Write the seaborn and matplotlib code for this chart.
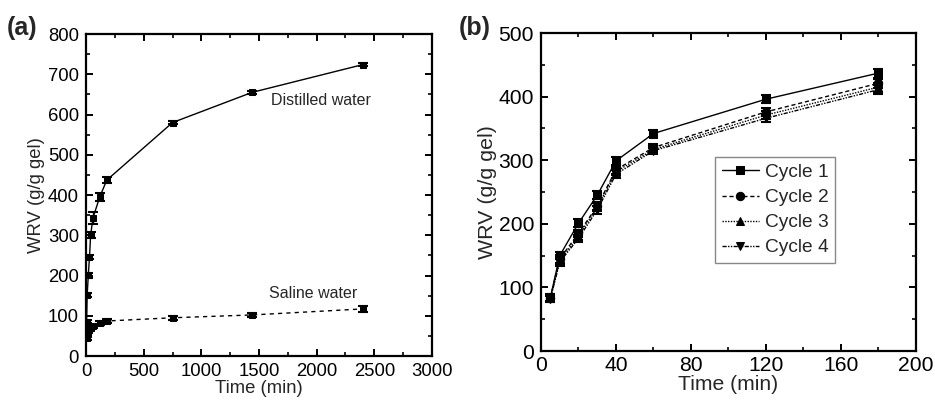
import numpy as np
import pandas as pd
import matplotlib
matplotlib.use("Agg")
import matplotlib.pyplot as plt
import seaborn as sns
from matplotlib.ticker import MultipleLocator

# ---- data (a) ----
time_a = [5, 10, 20, 30, 40, 60, 120, 180, 750, 1440, 2400]
distilled = [85, 152, 201, 246, 300, 343, 396, 437, 580, 655, 724]
distilled_err = [4, 5, 6, 6, 8, 14, 10, 8, 4, 4, 4]
saline = [45, 52, 60, 66, 70, 74, 82, 87, 95, 102, 117]
saline_err = [4, 4, 4, 4, 4, 4, 4, 4, 5, 6, 7]

# ---- data (b) ----
time_b = [5, 10, 20, 30, 40, 60, 120, 180]
cycle1 = [84, 150, 201, 245, 299, 342, 396, 437]
cycle2 = [84, 145, 185, 228, 285, 320, 376, 421]
cycle3 = [83, 142, 181, 226, 282, 317, 371, 415]
cycle4 = [82, 140, 177, 222, 278, 315, 366, 411]
err_b = [5, 6, 6, 6, 6, 5, 6, 7]
cycle_labels = ["Cycle 1", "Cycle 2", "Cycle 3", "Cycle 4"]

sns.set_style("ticks")
plt.rcParams['font.family'] = ['Liberation Sans', 'DejaVu Sans']

fig = plt.figure(figsize=(9.35, 4.03), dpi=100)
ax1 = fig.add_axes([0.092, 0.1166, 0.370, 0.799])
ax2 = fig.add_axes([0.5786, 0.129, 0.401, 0.789])

def style_axes(ax, lab_size, xpad, ypad):
    for s in ax.spines.values():
        s.set_linewidth(1.6)
        s.set_color("black")
    ax.tick_params(which="both", direction="in", top=True, right=True,
                   colors="black", labelsize=lab_size)
    ax.tick_params(axis="x", which="both", pad=xpad)
    ax.tick_params(axis="y", which="both", pad=ypad)
    ax.tick_params(which="major", length=5, width=1.4)
    ax.tick_params(which="minor", length=3, width=1.2)

# panel a
df_d = pd.DataFrame({"t": time_a, "v": distilled})
df_s = pd.DataFrame({"t": time_a, "v": saline})
sns.lineplot(data=df_d, x="t", y="v", ax=ax1, color="black", lw=1.0,
             marker="s", markersize=4.5, markeredgecolor="black")
sns.lineplot(data=df_s, x="t", y="v", ax=ax1, color="black", lw=1.0,
             marker="s", markersize=4.5, markeredgecolor="black", linestyle=(0, (3, 3)))
ax1.errorbar(time_a, distilled, yerr=distilled_err, fmt="none", ecolor="black",
             capsize=3.5, elinewidth=1.0, capthick=1.5)
ax1.errorbar(time_a, saline, yerr=saline_err, fmt="none", ecolor="black",
             capsize=3.5, elinewidth=1.0, capthick=1.5)
ax1.set_xlim(0, 3000)
ax1.set_ylim(0, 800)
ax1.xaxis.set_major_locator(MultipleLocator(500))
ax1.xaxis.set_minor_locator(MultipleLocator(250))
ax1.yaxis.set_major_locator(MultipleLocator(100))
ax1.yaxis.set_minor_locator(MultipleLocator(50))
ax1.set_xlabel("Time (min)", fontsize=13.3, labelpad=0)
ax1.set_ylabel("WRV (g/g gel)", fontsize=13.3, labelpad=2)
style_axes(ax1, 13.3, 5, 5)
ax1.text(1600, 636, "Distilled water", fontsize=11.5, va="center", ha="left")
ax1.text(1590, 156, "Saline water", fontsize=11.5, va="center", ha="left")

# panel b
styles = ["-", (0, (3, 2)), (0, (1, 1)), (0, (3, 1, 1, 1, 1, 1))]
markers = ["s", "o", "^", "v"]
series = [cycle1, cycle2, cycle3, cycle4]
for vals, lab, ls, mk in zip(series, cycle_labels, styles, markers):
    dfc = pd.DataFrame({"t": time_b, "v": vals})
    sns.lineplot(data=dfc, x="t", y="v", ax=ax2, color="black", lw=1.0,
                 linestyle=ls, marker=mk, markersize=6, markeredgecolor="black",
                 label=lab)
    ax2.errorbar(time_b, vals, yerr=err_b, fmt="none", ecolor="black",
                 capsize=3.5, elinewidth=1.0, capthick=1.5)
ax2.set_xlim(0, 200)
ax2.set_ylim(0, 500)
ax2.xaxis.set_major_locator(MultipleLocator(40))
ax2.xaxis.set_minor_locator(MultipleLocator(20))
ax2.yaxis.set_major_locator(MultipleLocator(100))
ax2.yaxis.set_minor_locator(MultipleLocator(50))
ax2.set_xlabel("Time (min)", fontsize=15.2, labelpad=0)
ax2.set_ylabel("WRV (g/g gel)", fontsize=15.4, labelpad=1)
style_axes(ax2, 15.2, 3.5, 5)
leg = ax2.legend(loc="upper left", bbox_to_anchor=(0.464, 0.61), fontsize=13.8,
                 frameon=True, fancybox=False, framealpha=1, edgecolor="#888888",
                 handlelength=1.95, handletextpad=0.3, borderpad=0.35,
                 labelspacing=0.4, borderaxespad=0)
leg.get_frame().set_linewidth(1.0)

fig.text(0.007, 0.93, "(a)", fontsize=18, fontweight="bold", ha="left", va="center")
fig.text(0.491, 0.93, "(b)", fontsize=18, fontweight="bold", ha="left", va="center")

fig.savefig("out.png", dpi=100)
